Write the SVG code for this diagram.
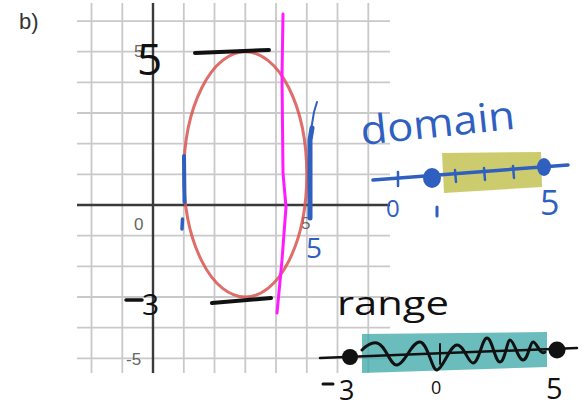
<svg xmlns="http://www.w3.org/2000/svg" width="585" height="407" viewBox="0 0 585 407">
<style>
.grid{stroke:#c9c9c9;stroke-width:1.8;fill:none}
.axis{stroke:#3a3a3a;stroke-width:2.4;fill:none}
.tick{font-family:"Liberation Sans",Arial,sans-serif;font-size:17px;fill:#666}
.blue{stroke:#2f5fbf;fill:none;stroke-linecap:round;stroke-linejoin:round}
.blk{stroke:#111;fill:none;stroke-linecap:round;stroke-linejoin:round}
.hand{font-family:"Open Sans","DejaVu Sans",sans-serif}
</style>
<rect width="585" height="407" fill="#fff"/>
<text x="19" y="29" font-family="Liberation Sans,Arial,sans-serif" font-size="22" fill="#333">b)</text>
<g id="grid">
<path class="grid" d="M91.5 3V373M122.3 3V373M183.8 3V373M214.5 3V373M245.3 3V373M276 3V373M306.8 3V373M337.5 3V373M368.3 3V373"/>
<path class="grid" d="M77 21.1H390M77 51.7H390M77 82.4H390M77 113H390M77 143.7H390M77 174.4H390M77 235.6H390M77 266.3H390M77 297H390M77 327.6H390M77 358.3H390"/>
<path class="axis" d="M153 3V373M77 205H390"/>
<text class="tick" x="134" y="230">0</text>
<text class="tick" x="301" y="229">5</text>
<text class="tick" x="134" y="57">5</text>
<text class="tick" x="126" y="365">-5</text>
</g>
<g id="ellipse">
<ellipse cx="245.3" cy="174.4" rx="61.5" ry="122.6" fill="none" stroke="#d9534f" stroke-opacity="0.85" stroke-width="3"/>
</g>
<g id="magenta-line">
<path d="M283 14 L282 77 L283 173 L286 207 L282 260 L277 313" fill="none" stroke="#ff1aff" stroke-width="3" stroke-linecap="round"/>
</g>
<g id="graph-annotations">
<text class="hand" x="137" y="75" font-size="44" fill="#111">5</text>
<path class="blk" d="M195 53 L269 50" stroke-width="4"/>
<path class="blk" d="M126 300 L142 300" stroke-width="3.5"/>
<text class="hand" x="142" y="315" font-size="30" fill="#111">3</text>
<path class="blk" d="M212 303 L271 298" stroke-width="4"/>
<path class="blue" d="M184 156 L184.5 202" stroke-width="4"/>
<path class="blue" d="M182.5 219 L182 229" stroke-width="3.5"/>
<path class="blue" d="M310 218 L310 140 L312 128" stroke-width="5"/>
<path class="blue" d="M311 130 L314 112 L317 102" stroke-width="2"/>
<text class="hand" x="306" y="258" font-size="28" fill="#2f5fbf">5</text>
</g>
<g id="domain">
<text class="hand" x="362" y="145" font-size="40" fill="#2f5fbf" textLength="155" lengthAdjust="spacingAndGlyphs" transform="rotate(-6 362 145)">domain</text>
<path d="M442 153 L541 152 L542 187 L444 193 Z" fill="#b7b730" fill-opacity="0.7"/>
<path class="blue" d="M373 180 L568 165" stroke-width="3.5"/>
<path class="blue" d="M398 172 L398 186M455 170 L456 182M484 168 L485 180M513 166 L514 178" stroke-width="2.5"/>
<ellipse cx="432" cy="178" rx="9" ry="10" fill="#2f5fbf"/>
<ellipse cx="544" cy="167" rx="7" ry="9" fill="#2f5fbf"/>
<text class="hand" x="386" y="217" font-size="24" fill="#2f5fbf">0</text>
<path class="blue" d="M437 207 L437 216" stroke-width="3"/>
<text class="hand" x="540" y="215" font-size="34" fill="#2f5fbf">5</text>
</g>
<g id="range">
<text class="hand" x="337" y="315" font-size="33" fill="#111" textLength="112" lengthAdjust="spacingAndGlyphs">range</text>
<path d="M362 334 L547 332 L547 367 L362 373 Z" fill="#3aa6a6" fill-opacity="0.75"/>
<path class="blk" d="M320 358 L577 348" stroke-width="2.5"/>
<path class="blk" d="M440 344 L440 364" stroke-width="2"/>
<path class="blk" d="M362 350 C368 344 372 342 377 343 C386 345 390 366 397 365 C405 364 412 341 420 342 C428 343 432 371 437 370 C443 369 450 345 457 345 C464 345 468 363 473 363 C479 363 482 338 487 338 C492 338 495 362 500 362 C505 362 507 340 510 340 C514 340 518 360 523 360 C528 360 530 342 533 342 C537 342 540 356 545 352" stroke-width="3"/>
<circle cx="350" cy="357" r="8" fill="#111"/>
<circle cx="557" cy="350" r="8.5" fill="#111"/>
<path class="blk" d="M323 384 L333 384" stroke-width="3"/>
<text class="hand" x="339" y="400" font-size="27" fill="#111">3</text>
<text class="hand" x="431" y="394" font-size="18" fill="#111">0</text>
<text class="hand" x="546" y="399" font-size="29" fill="#111">5</text>
</g>
</svg>
